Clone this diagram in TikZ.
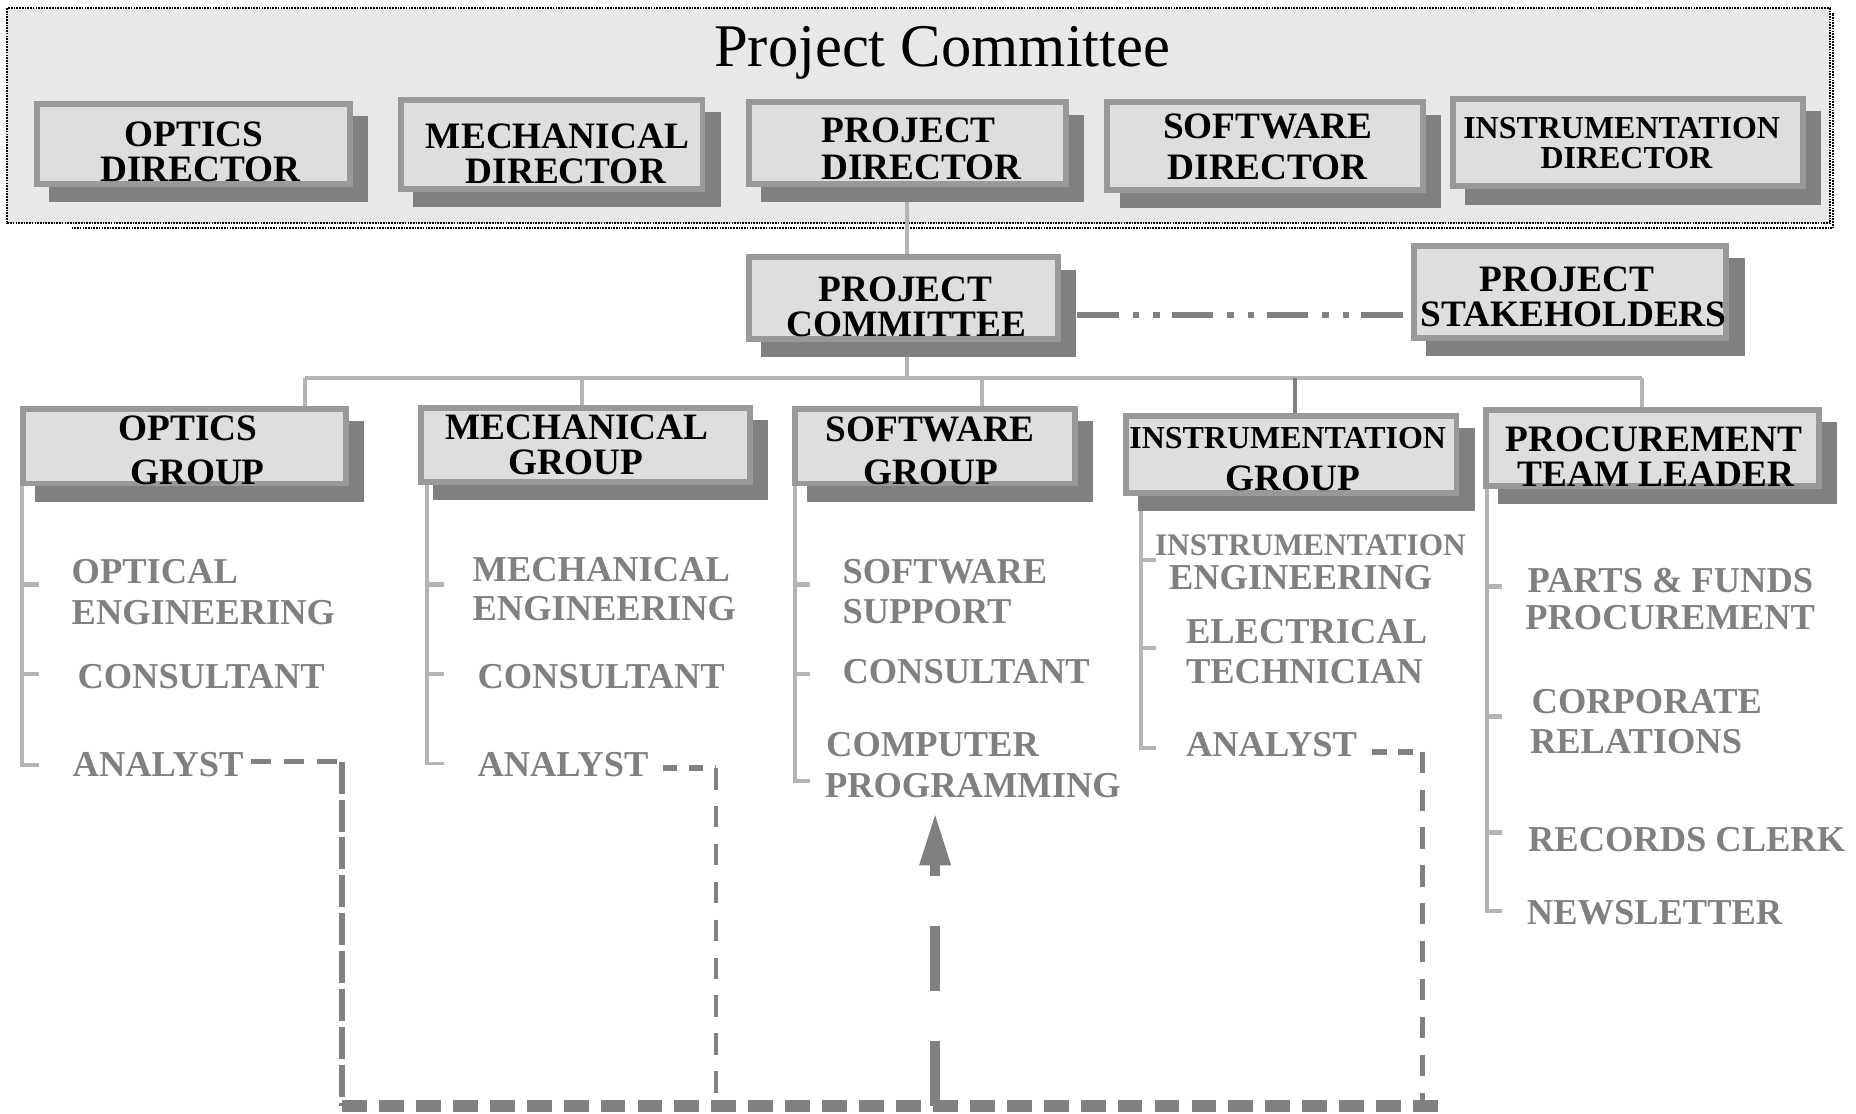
\documentclass[tikz,border=0pt]{standalone}
\usepackage{fontspec}
\setmainfont{Liberation Serif}
\usetikzlibrary{shadows,arrows.meta,calc}

\definecolor{panelgray}{HTML}{E8E8E8}
\definecolor{boxfill}{HTML}{DEDEDE}
\definecolor{boxedge}{HTML}{999999}
\definecolor{shade}{HTML}{808080}
\definecolor{treegray}{HTML}{B4B4B4}

\pgfdeclarelayer{panel}
\pgfdeclarelayer{wires}
\pgfsetlayers{panel,wires,main}

\begin{document}
\begin{tikzpicture}[x=0.5pt,y=-0.5pt,
  every node/.style={inner sep=0pt,outer sep=0pt},
  orgbox/.style={rectangle,draw=boxedge,line width=2.5pt,fill=boxfill,
    general shadow={fill=shade,draw=shade,shadow xshift=6.4pt,shadow yshift=-6.4pt}},
  boxtext/.style={anchor=base,font=\fontsize{15.75pt}{18pt}\selectfont\bfseries},
  boxsmall/.style={anchor=base,font=\fontsize{13.5pt}{16pt}\selectfont\bfseries},
  roleitem/.style={anchor=base west,text=shade,font=\fontsize{15.4pt}{18pt}\selectfont\bfseries},
  roleitemsmall/.style={anchor=base west,text=shade,font=\fontsize{13.25pt}{16pt}\selectfont\bfseries},
  treewire/.style={draw=treegray,line width=1.65pt},
  treetick/.style={draw=treegray,line width=1.9pt},
  darkwire/.style={draw=shade,line width=1.65pt},
  linkline/.style={draw=shade,line width=2.5pt,
    dash pattern=on 17.5pt off 6pt on 2.7pt off 6pt on 2.7pt off 5.1pt,dash phase=31.75pt},
  paneledge/.style={draw=black,line width=0.9pt,dash pattern=on 0.7pt off 0.45pt},
  anadash/.style={draw=shade,line width=2pt,dash pattern=on 8.5pt off 5.5pt},
  anadashshort/.style={draw=shade,line width=2.5pt,dash pattern=on 6pt off 5pt},
  vdashwide/.style={draw=shade,line width=2.5pt,dash pattern=on 13.5pt off 2.5pt},
  vdash/.style={draw=shade,line width=2pt,dash pattern=on 9pt off 7pt},
  basedash/.style={draw=shade,line width=5.35pt,dash pattern=on 10.5pt off 5.1pt},
  uparrow/.style={draw=shade,line width=4.5pt,dash pattern=on 27.5pt off 21pt,
    -{Triangle[length=22.5pt,width=12pt,fill=shade]}}
]
\useasboundingbox (0,0) rectangle (1568,941);

% committee panel behind the directors
\begin{pgfonlayer}{panel}
  \fill[white] (0,0) rectangle (1568,941);
  \draw[paneledge,fill=panelgray] (6.2,7) rectangle (1546,188.7);
  \draw[paneledge] (60.5,192.9) -- (1548.5,192.9) -- (1548.5,11);
\end{pgfonlayer}

\node[anchor=base,font=\fontsize{25.6pt}{30pt}\selectfont] (paneltitle) at (796,56) {Project Committee};

% directors
\node[orgbox,minimum width=132pt,minimum height=34pt] (optdir) at (163.5,121.5) {};
\node[orgbox,minimum width=127.5pt,minimum height=37.5pt] (mechdir) at (466,122) {};
\node[orgbox,minimum width=134pt,minimum height=34.5pt] (projdir) at (766.5,121) {};
\node[orgbox,minimum width=133.5pt,minimum height=37pt] (swdir) at (1069,123.5) {};
\node[orgbox,minimum width=148pt,minimum height=37pt] (instdir) at (1375.5,120.5) {};

\node[boxtext] (optdirA) at (163.8,123.5) {OPTICS};
\node[boxtext] (optdirB) at (169.3,153.5) {DIRECTOR};
\node[boxtext] (mechdirA) at (471,125.5) {MECHANICAL};
\node[boxtext] (mechdirB) at (478,155) {DIRECTOR};
\node[boxtext] (projdirA) at (767.8,120) {PROJECT};
\node[boxtext] (projdirB) at (778.4,152) {DIRECTOR};
\node[boxtext] (swdirA) at (1071,117) {SOFTWARE};
\node[boxtext] (swdirB) at (1071,151.5) {DIRECTOR};
\node[boxsmall] (instdirA) at (1370,117) {INSTRUMENTATION};
\node[boxsmall] (instdirB) at (1374,142) {DIRECTOR};

% committee and stakeholders
\node[orgbox,minimum width=130.5pt,minimum height=34.5pt] (pc) at (763,252) {};
\node[orgbox,minimum width=132pt,minimum height=39pt] (ps) at (1326.5,246.5) {};
\node[boxtext] (pcA) at (765,255) {PROJECT};
\node[boxtext] (pcB) at (765.7,284) {COMMITTEE};
\node[boxtext] (psA) at (1323.8,246.4) {PROJECT};
\node[boxtext] (psB) at (1329.4,275.5) {STAKEHOLDERS};

% groups
\node[orgbox,minimum width=136.5pt,minimum height=31.5pt] (optgrp) at (156,377) {};
\node[orgbox,minimum width=139pt,minimum height=31.5pt] (mechgrp) at (494.5,376) {};
\node[orgbox,minimum width=118.5pt,minimum height=31.5pt] (swgrp) at (790,377) {};
\node[orgbox,minimum width=139.5pt,minimum height=32.5pt] (instgrp) at (1091,384) {};
\node[orgbox,minimum width=140.5pt,minimum height=32pt] (procgrp) at (1396,378.5) {};

\node[boxtext] (optgrpA) at (158.7,372.5) {OPTICS};
\node[boxtext] (optgrpB) at (166.8,409.5) {GROUP};
\node[boxtext] (mechgrpA) at (487.3,371.5) {MECHANICAL};
\node[boxtext] (mechgrpB) at (486.3,401) {GROUP};
\node[boxtext] (swgrpA) at (785.8,373) {SOFTWARE};
\node[boxtext] (swgrpB) at (786.7,409) {GROUP};
\node[boxsmall] (instgrpA) at (1087.9,378.6) {INSTRUMENTATION};
\node[boxtext] (instgrpB) at (1092.6,414) {GROUP};
\node[boxtext] (procgrpA) at (1397.2,381.5) {PROCUREMENT};
\node[boxtext] (procgrpB) at (1398.8,411) {TEAM LEADER};

% staff under each group
\node[roleitem] (optA) at (60.6,492.7) {OPTICAL};
\node[roleitem] (optB) at (60.6,528) {ENGINEERING};
\node[roleitem] (optC) at (65.5,581.4) {CONSULTANT};
\node[roleitem] (optD) at (61.4,656) {ANALYST};

\node[roleitem] (mechA) at (399.3,491.4) {MECHANICAL};
\node[roleitem] (mechB) at (399.3,523.8) {ENGINEERING};
\node[roleitem] (mechC) at (403.4,581.4) {CONSULTANT};
\node[roleitem] (mechD) at (403.4,656) {ANALYST};

\node[roleitem] (swA) at (711.8,492.8) {SOFTWARE};
\node[roleitem] (swB) at (711.8,526.6) {SUPPORT};
\node[roleitem] (swC) at (711.8,577.3) {CONSULTANT};
\node[roleitem] (swD) at (698,639.2) {COMPUTER};
\node[roleitem] (swE) at (697,673.6) {PROGRAMMING};

\node[roleitemsmall] (instA) at (975.8,468.9) {INSTRUMENTATION};
\node[roleitem] (instB) at (987.6,497.8) {ENGINEERING};
\node[roleitem] (instC) at (1002,543.4) {ELECTRICAL};
\node[roleitem] (instD) at (1002,577.3) {TECHNICIAN};
\node[roleitem] (instE) at (1002,639.2) {ANALYST};

\node[roleitem] (procA) at (1290.5,500.7) {PARTS \& FUNDS};
\node[roleitem] (procB) at (1288.6,532.2) {PROCUREMENT};
\node[roleitem] (procC) at (1294,603) {CORPORATE};
\node[roleitem] (procD) at (1292.6,636.4) {RELATIONS};
\node[roleitem] (procE) at (1291,719.5) {RECORDS CLERK};
\node[roleitem] (procF) at (1290,781.4) {NEWSLETTER};

% reporting lines, kept behind the boxes
\coordinate (busW) at (258,319.6);
\coordinate (busE) at (1387,319.6);
\coordinate (dropmech) at (491.4,319.6);
\coordinate (dropsw) at (829.8,319.6);
\coordinate (dropinst) at (1093.8,319.6);
\coordinate (linky) at (0,265.8);
\coordinate (optspine) at (18.4,646);
\coordinate (mechspine) at (360.4,645);
\coordinate (swspine) at (671.6,660);
\coordinate (instspine) at (964,632);
\coordinate (procspine) at (1256,770);

\begin{pgfonlayer}{wires}
  \draw[treewire] (projdir.south) -- (projdir.south |- pc.north);
  \draw[treewire] (pc.south -| projdir.south) -- (projdir.south |- busW);
  \draw[treewire] (busW) -- (busE);
  \draw[treewire] (busW) -- (busW |- optgrp.north);
  \draw[treewire] (dropmech) -- (dropmech |- mechgrp.north);
  \draw[treewire] (dropsw) -- (dropsw |- swgrp.north);
  \draw[darkwire] (dropinst) -- (dropinst |- instgrp.north);
  \draw[treewire] (busE) -- (busE |- procgrp.north);
  \draw[linkline] (pc.east |- linky) -- (ps.west |- linky);

  \draw[treewire,line join=miter] (optgrp.south -| optspine) -- (optspine) -- ++(14.4,0);
  \draw[treetick] (18.4,494) -- ++(14.4,0);
  \draw[treetick] (18.4,569.4) -- ++(14.4,0);

  \draw[treewire,line join=miter] (mechgrp.south -| mechspine) -- (mechspine) -- ++(14.3,0);
  \draw[treetick] (360.4,494) -- ++(14.3,0);
  \draw[treetick] (360.4,569.4) -- ++(14.3,0);

  \draw[treewire,line join=miter] (swgrp.south -| swspine) -- (swspine) -- ++(12.4,0);
  \draw[treetick] (671.6,494) -- ++(12.4,0);
  \draw[treetick] (671.6,569.4) -- ++(12.4,0);

  \draw[treewire,line join=miter] (instgrp.south -| instspine) -- (instspine) -- ++(13,0);
  \draw[treetick] (964,473) -- ++(13,0);
  \draw[treetick] (964,547.6) -- ++(13,0);

  \draw[treewire,line join=miter] (procgrp.south -| procspine) -- (procspine) -- ++(12.6,0);
  \draw[treetick] (1256,495.6) -- ++(12.6,0);
  \draw[treetick] (1256,605.5) -- ++(12.6,0);
  \draw[treetick] (1256,703.5) -- ++(12.6,0);
\end{pgfonlayer}

% analysts feeding computer programming
\coordinate (optturn) at (289,643.5);
\coordinate (optfoot) at (289,934.4);
\coordinate (mechturn) at (605,649);
\coordinate (mechfoot) at (605,934.4);
\coordinate (instturn) at (1202,635);
\coordinate (instfoot) at (1202,934.4);
\coordinate (baseend) at (1215,934.4);
\coordinate (arrowfoot) at (790,934.4);
\coordinate (arrowtip) at (790,686);

\draw[anadash,shorten <=3pt] (optD.east |- optturn) -- (optturn);
\draw[vdashwide] (optturn) -- (optfoot);
\draw[anadashshort,shorten <=6pt] (mechD.east |- mechturn) -- (mechturn);
\draw[vdash] (mechturn) -- (mechfoot);
\draw[anadashshort,shorten <=6.5pt] (instE.east |- instturn) -- (instturn);
\draw[vdash] (instturn) -- (instfoot);
\draw[basedash] (optfoot) -- (baseend);
\draw[uparrow] (arrowfoot) -- (arrowtip);
\end{tikzpicture}
\end{document}
